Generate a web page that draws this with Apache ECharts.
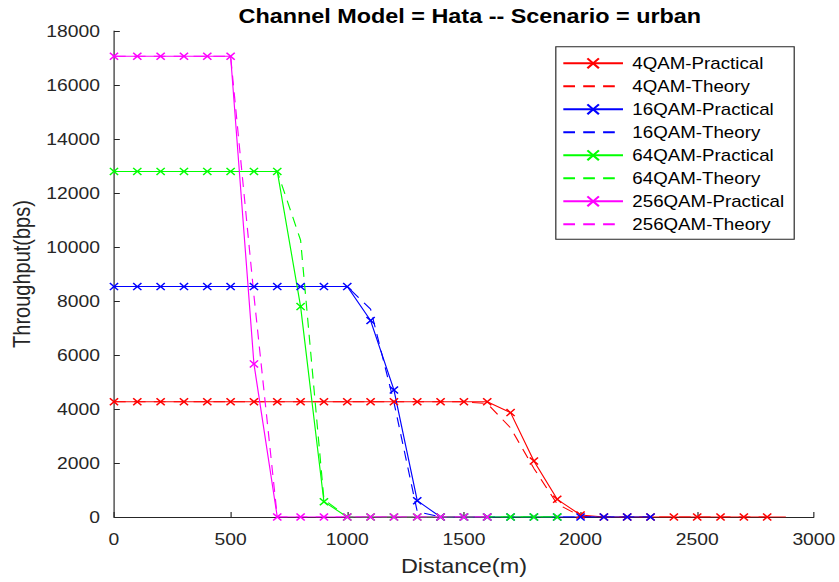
<!DOCTYPE html>
<html>
<head>
<meta charset="utf-8">
<script src="https://cdn.jsdelivr.net/npm/echarts@6/dist/echarts.min.js"></script>
<style>
  html, body { margin: 0; padding: 0; background: #fff; overflow: hidden; }
  /* the figure is laid out at a narrower width and widened horizontally */
  #chart { width: 717px; height: 582px; transform: scaleX(1.17015); transform-origin: 0 0; }
</style>
</head>
<body>
<div id="chart"></div>
<script>
// Distance from the base station (m)
const distance = [0, 100, 200, 300, 400, 500, 600, 700, 800, 900, 1000, 1100, 1200, 1300, 1400,
                  1500, 1600, 1700, 1800, 1900, 2000, 2100, 2200, 2300, 2400, 2500, 2600, 2700, 2800];
const qam4TailDistance = 2880;

// Throughput (bps) per modulation
const qam4Practical = [4267, 4267, 4267, 4267, 4267, 4267, 4267, 4267, 4267, 4267, 4267, 4267, 4267, 4267, 4267,
                       4267, 4267, 3866, 2075, 656, 74, 0, 0, 0, 0, 0, 0, 0, 0];
const qam4Theory = [4267, 4267, 4267, 4267, 4267, 4267, 4267, 4267, 4267, 4267, 4267, 4267, 4267, 4267, 4267,
                    4267, 4200, 3300, 1800, 480, 30, 0, 0, 0, 0, 0, 0, 0, 0];
const qam16Practical = [8533, 8533, 8533, 8533, 8533, 8533, 8533, 8533, 8533, 8533, 8533, 7275, 4706, 604,
                        0, 0, 0, 0, 0, 0, 0, 0, 0, 0];
const qam16Theory = [8533, 8533, 8533, 8533, 8533, 8533, 8533, 8533, 8533, 8533, 8533, 7700, 4250, 200,
                     0, 0, 0, 0, 0, 0, 0, 0, 0, 0];
const qam64Practical = [12800, 12800, 12800, 12800, 12800, 12800, 12800, 12800, 7793, 567,
                        0, 0, 0, 0, 0, 0, 0, 0, 0, 0];
const qam64Theory = [12800, 12800, 12800, 12800, 12800, 12800, 12800, 12800, 10250, 650,
                     0, 0, 0, 0, 0, 0, 0, 0, 0, 0];
const qam256Practical = [17067, 17067, 17067, 17067, 17067, 17067, 5670, 0, 0, 0, 0, 0, 0, 0, 0, 0, 0];
const qam256Theory = [17067, 17067, 17067, 17067, 17067, 17067, 8200, 0, 0, 0, 0, 0, 0, 0, 0, 0, 0];

const seriesNames = ['4QAM-Practical', '4QAM-Theory', '16QAM-Practical', '16QAM-Theory',
                     '64QAM-Practical', '64QAM-Theory', '256QAM-Practical', '256QAM-Theory'];
const yTicks = { min: 0, max: 18000, interval: 2000 };
const xTicks = { min: 0, max: 3000, interval: 500 };

const INK = '#262626';
const FONT = '"Liberation Sans", Arial, sans-serif';
const CROSS = 'path://M0,1.2L1.2,0L5,3.8L8.8,0L10,1.2L6.2,5L10,8.8L8.8,10L5,6.2L1.2,10L0,8.8L3.8,5Z';

function pairs(values) {
  return values.map((v, i) => [distance[i], v]);
}

function practical(name, color, values) {
  return {
    name, type: 'line', data: values, symbol: CROSS, symbolSize: 8,
    showAllSymbol: true, silent: true,
    lineStyle: { color, width: 1 },
    itemStyle: { color },
    emphasis: { disabled: true }
  };
}

function theory(name, color, values) {
  return {
    name, type: 'line', data: values, symbol: 'none', silent: true,
    lineStyle: { color, width: 1, type: [10, 7] },
    itemStyle: { color },
    emphasis: { disabled: true }
  };
}

const qam4PracticalData = pairs(qam4Practical);
qam4PracticalData.push({ value: [qam4TailDistance, 0], symbol: 'none' });

// theory entries show only their dashed line in the legend
const legendItems = seriesNames.map(name =>
  name.endsWith('Theory') ? { name, itemStyle: { opacity: 0 } } : { name });

const chart = echarts.init(document.getElementById('chart'), null, { renderer: 'svg' });
chart.setOption({
  animation: false,
  backgroundColor: '#fff',
  title: {
    text: 'Channel Model = Hata -- Scenario = urban',
    left: 396.5, top: 1, textAlign: 'center',
    textStyle: { fontFamily: FONT, fontSize: 20, fontWeight: 'bold', color: '#000' }
  },
  grid: { left: 97.4, right: 21.5, top: 31, bottom: 65, containLabel: false },
  legend: {
    data: legendItems,
    orient: 'vertical', left: 475, top: 46.7,
    itemWidth: 51, itemHeight: 14, itemGap: 7,
    padding: [8.6, 8.5, 7, 5.4],
    borderColor: INK, borderWidth: 1, backgroundColor: '#fff',
    textStyle: { fontFamily: FONT, fontSize: 16, color: '#000', padding: [0, 0, 0, 3] }
  },
  xAxis: {
    type: 'value', min: xTicks.min, max: xTicks.max, interval: xTicks.interval,
    name: 'Distance(m)', nameLocation: 'middle', nameGap: 39,
    nameTextStyle: { fontFamily: FONT, fontSize: 20, color: INK },
    axisLine: { show: true, onZero: false, lineStyle: { color: INK, width: 1 } },
    axisTick: { show: true, inside: true, length: 5, lineStyle: { color: INK } },
    axisLabel: { fontFamily: FONT, fontSize: 16.5, color: INK, margin: 14, formatter: v => String(v) },
    splitLine: { show: false }
  },
  yAxis: {
    type: 'value', min: yTicks.min, max: yTicks.max, interval: yTicks.interval,
    name: 'Throughput(bps)', nameLocation: 'middle', nameGap: 62, nameRotate: 90,
    nameTextStyle: { fontFamily: FONT, fontSize: 20, color: INK },
    axisLine: { show: true, lineStyle: { color: INK, width: 1 } },
    axisTick: { show: true, inside: true, length: 5, lineStyle: { color: INK } },
    axisLabel: { fontFamily: FONT, fontSize: 16.5, color: INK, margin: 12, formatter: v => String(v) },
    splitLine: { show: false }
  },
  series: [
    practical(seriesNames[0], '#ff0000', qam4PracticalData),
    theory(seriesNames[1], '#ff0000', pairs(qam4Theory)),
    practical(seriesNames[2], '#0000ff', pairs(qam16Practical)),
    theory(seriesNames[3], '#0000ff', pairs(qam16Theory)),
    practical(seriesNames[4], '#00ff00', pairs(qam64Practical)),
    theory(seriesNames[5], '#00ff00', pairs(qam64Theory)),
    practical(seriesNames[6], '#ff00ff', pairs(qam256Practical)),
    theory(seriesNames[7], '#ff00ff', pairs(qam256Theory))
  ]
});
</script>
</body>
</html>
